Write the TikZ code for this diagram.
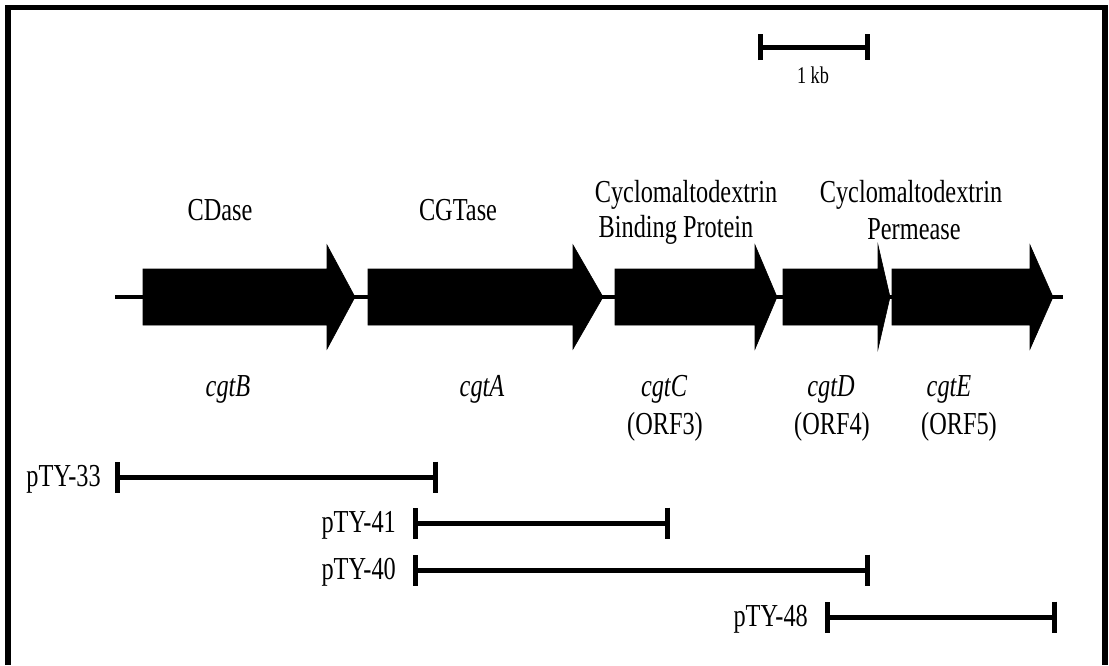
\documentclass[tikz,border=0pt]{standalone}
\usepackage{fontspec}
\setmainfont{Liberation Serif}[FakeStretch=0.76]
\usetikzlibrary{arrows.meta}

\begin{document}
\begin{tikzpicture}[x=1pt, y=-1pt,
      gene/.style={fill=black, draw=black, line width=0.6pt, line join=miter},
      frag/.style={line width=5pt, {Bar[width=31pt]}-{Bar[width=31pt]}},
      lbl/.style={font=\fontsize{32}{34}\selectfont, inner sep=0pt, anchor=base},
      gname/.style={lbl, font=\fontsize{32}{34}\selectfont\itshape},
      clone/.style={font=\fontsize{32}{34}\selectfont, inner sep=0pt, anchor=base east}]
    \useasboundingbox (0,0) rectangle (1109,665);
    % frame
    \draw[line width=5.5pt] (8,665) -- (8,7.5) -- (1105,7.5) -- (1105,665);
    % scale bar
    \coordinate (kbL) at (758,47);
    \coordinate (kbR) at (870,47);
    \draw[line width=5pt, {Bar[width=26pt]}-{Bar[width=26pt]}] (kbL) -- (kbR);
    \node[lbl, font=\fontsize{24}{26}\selectfont] (kb) at (813,83) {1 kb};
    % gene cluster
    \coordinate (lineL) at (115,297);
    \coordinate (lineR) at (1063,297);
    \draw[line width=3.5pt] (lineL) -- (lineR);
    \foreach \xa/\xb/\xt in {143/327/355, 368/573/603, 615/755/777, 783/878/890, 892/1030/1053}
      \filldraw[gene] (\xa,269) -- (\xb,269) -- (\xb,245) -- (\xt,297) -- (\xb,349) -- (\xb,325) -- (\xa,325) -- cycle;
    % protein names
    \node[lbl] (cdase) at (220,220) {CDase};
    \node[lbl] (cgtase) at (458,220) {CGTase};
    \node[lbl] (cbp1) at (686,202) {Cyclomaltodextrin};
    \node[lbl] (cbp2) at (676,237) {Binding Protein};
    \node[lbl] (perm1) at (911,202) {Cyclomaltodextrin};
    \node[lbl] (perm2) at (914,239) {Permease};
    % gene names
    \node[gname] (cgtB) at (228,396) {cgtB};
    \node[gname] (cgtA) at (482,396) {cgtA};
    \node[gname] (cgtC) at (664,396) {cgtC};
    \node[gname] (cgtD) at (831,396) {cgtD};
    \node[gname] (cgtE) at (949,396) {cgtE};
    \node[lbl] (orf3) at (665,434) {(ORF3)};
    \node[lbl] (orf4) at (832,434) {(ORF4)};
    \node[lbl] (orf5) at (959,434) {(ORF5)};
    % subclones
    \coordinate (p33a) at (115,477);
    \coordinate (p33b) at (438,477);
    \coordinate (p41a) at (413,523);
    \coordinate (p41b) at (670,523);
    \coordinate (p40a) at (413,570);
    \coordinate (p40b) at (870,570);
    \coordinate (p48a) at (825,617);
    \coordinate (p48b) at (1057,617);
    \draw[frag] (p33a) -- (p33b);
    \draw[frag] (p41a) -- (p41b);
    \draw[frag] (p40a) -- (p40b);
    \draw[frag] (p48a) -- (p48b);
    \node[clone] (pTY33) at ([xshift=-14pt,yshift=-9pt]p33a) {pTY-33};
    \node[clone] (pTY41) at ([xshift=-17pt,yshift=-9pt]p41a) {pTY-41};
    \node[clone] (pTY40) at ([xshift=-17pt,yshift=-9pt]p40a) {pTY-40};
    \node[clone] (pTY48) at ([xshift=-17pt,yshift=-9pt]p48a) {pTY-48};
  \end{tikzpicture}
\end{document}
